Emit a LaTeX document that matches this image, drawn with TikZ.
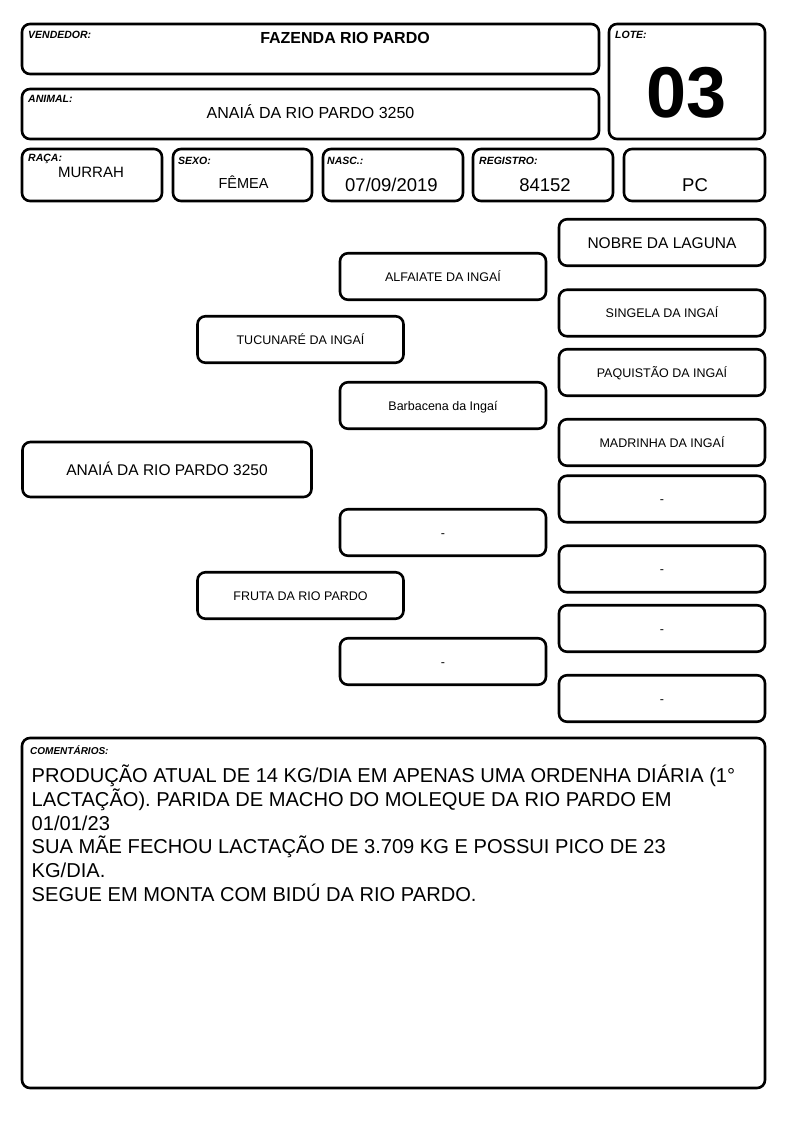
\documentclass[tikz,border=0pt]{standalone}
\usepackage{fontspec}
\setmainfont{Liberation Sans}
\newcommand{\myfs}[1]{\fontsize{#1}{#1}\selectfont}
\tikzset{
  box/.style={draw, line width=2.6pt, rounded corners=8pt, inner sep=0pt},
  lbl/.style={anchor=base west, inner sep=0pt, font=\myfs{10.5}\bfseries\itshape},
  val/.style={anchor=base, inner sep=0pt},
  ped/.style={box, minimum width=206pt, minimum height=46.5pt, font=\myfs{12.5}, text height=9pt, text depth=0pt},
  pedbig/.style={ped, font=\myfs{15.5}, text height=11.2pt},
  cline/.style={anchor=base west, inner sep=0pt, font=\myfs{20.1}},
}
\begin{document}
\begin{tikzpicture}[x=1pt,y=-1pt]
\useasboundingbox (0,0) rectangle (794,1123);
% header boxes
\node[box, minimum width=577pt, minimum height=50pt] (vend) at (310.5,49) {};
\node[box, minimum width=577pt, minimum height=50pt] (anim) at (310.5,114) {};
\node[box, minimum width=156pt, minimum height=115pt] (lote) at (687,81.5) {};
\node[box, minimum width=140pt, minimum height=52pt] (raca) at (92,175) {};
\node[box, minimum width=139pt, minimum height=52pt] (sexo) at (242.5,175) {};
\node[box, minimum width=140pt, minimum height=52pt] (nasc) at (393,175) {};
\node[box, minimum width=140pt, minimum height=52pt] (reg) at (543,175) {};
\node[box, minimum width=141pt, minimum height=52pt] (pc) at (694.5,175) {};
% labels
\node[lbl] (lvend) at (28,39) {VENDEDOR:};
\node[lbl] (lanim) at (28,103) {ANIMAL:};
\node[lbl] (llote) at (615,39) {LOTE:};
\node[lbl] (lraca) at (28,162) {RAÇA:};
\node[lbl] (lsexo) at (178,165) {SEXO:};
\node[lbl] (lnasc) at (327,165) {NASC.:};
\node[lbl] (lreg) at (479,165) {REGISTRO:};
% values
\node[val, font=\myfs{16}\bfseries] (tvend) at (345,43.5) {FAZENDA RIO PARDO};
\node[val, font=\myfs{16}] (tanim) at (310.5,118.5) {ANAIÁ DA RIO PARDO 3250};
\node[val, font=\myfs{72}\bfseries] (tlote) at (687,118) {03};
\node[val, font=\myfs{15}] (traca) at (91,178) {MURRAH};
\node[val, font=\myfs{14.5}] (tsexo) at (243.5,189) {FÊMEA};
\node[val, font=\myfs{18.5}] (tnasc) at (391.5,192) {07/09/2019};
\node[val, font=\myfs{18.5}] (treg) at (545,192) {84152};
\node[val, font=\myfs{18.5}] (tpc) at (695,192) {PC};
% pedigree
\node[pedbig, minimum width=289pt, minimum height=55pt] (p0) at (167,469.5) {ANAIÁ DA RIO PARDO 3250};
\node[ped] (p1) at (300.5,339.5) {TUCUNARÉ DA INGAÍ};
\node[ped] (p2) at (300.5,595.5) {FRUTA DA RIO PARDO};
\node[ped] (p11) at (443,276.5) {ALFAIATE DA INGAÍ};
\node[ped] (p12) at (443,405.5) {Barbacena da Ingaí};
\node[ped] (p21) at (443,532.5) {-};
\node[ped] (p22) at (443,661.5) {-};
\node[pedbig] (p111) at (662,242.5) {NOBRE DA LAGUNA};
\node[ped] (p112) at (662,313) {SINGELA DA INGAÍ};
\node[ped] (p121) at (662,372.5) {PAQUISTÃO DA INGAÍ};
\node[ped] (p122) at (662,442.5) {MADRINHA DA INGAÍ};
\node[ped] (p211) at (662,499) {-};
\node[ped] (p212) at (662,569) {-};
\node[ped] (p221) at (662,628.5) {-};
\node[ped] (p222) at (662,698.5) {-};
% comments
\node[box, minimum width=743pt, minimum height=350pt] (com) at (393.5,913) {};
\node[lbl, font=\myfs{10}\bfseries\itshape] (lcom) at (30,754) {COMENTÁRIOS:};
\node[cline] (c1) at (31.5,782.7) {PRODUÇÃO ATUAL DE 14 KG/DIA EM APENAS UMA ORDENHA DIÁRIA (1°};
\node[cline] (c2) at (31.5,806.5) {LACTAÇÃO). PARIDA DE MACHO DO MOLEQUE DA RIO PARDO EM};
\node[cline] (c3) at (31.5,830) {01/01/23};
\node[cline] (c4) at (31.5,853.5) {SUA MÃE FECHOU LACTAÇÃO DE 3.709 KG E POSSUI PICO DE 23};
\node[cline] (c5) at (31.5,877) {KG/DIA.};
\node[cline] (c6) at (31.5,901) {SEGUE EM MONTA COM BIDÚ DA RIO PARDO.};
\end{tikzpicture}
\end{document}
